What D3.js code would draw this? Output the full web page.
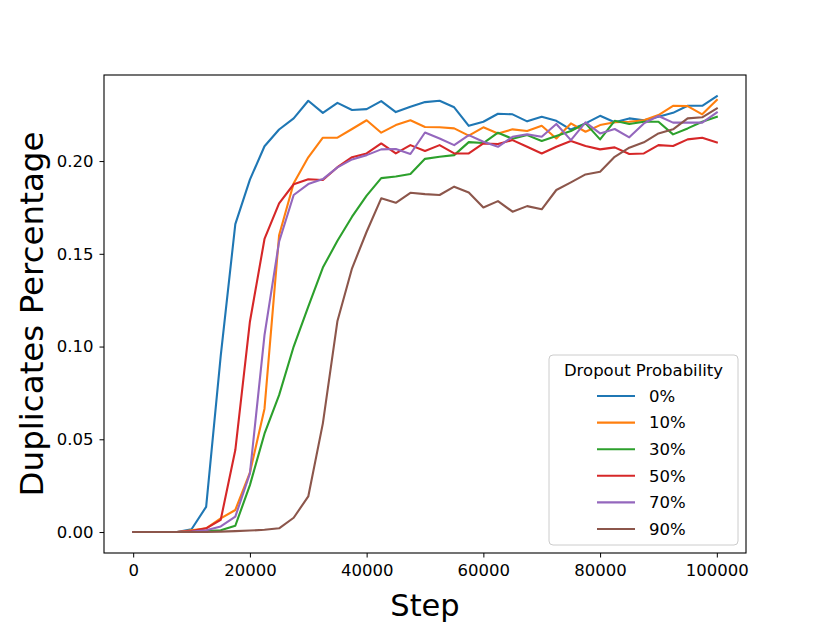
<!DOCTYPE html>
<html>
<head>
<meta charset="utf-8">
<script src="https://cdn.jsdelivr.net/npm/d3@7"></script>
<style>
  body { margin: 0; background: #fff; }
  text { font-family: "DejaVu Sans", sans-serif; }
</style>
</head>
<body>
<div id="canvas"></div>
<script>
// steps 0 .. 100000 every 2500
var steps = d3.range(0, 100001, 2500);

var labels = ["0%", "10%", "30%", "50%", "70%", "90%"];
var colors = ["#1f77b4", "#ff7f0e", "#2ca02c", "#d62728", "#9467bd", "#8c564b"];

var p0 = [0, 0, 0, 0, 0.0015, 0.0136, 0.095, 0.166, 0.190, 0.208, 0.217, 0.223, 0.2325, 0.226, 0.2314, 0.2275, 0.228, 0.2323, 0.2264, 0.2293, 0.2318,
  0.2325, 0.229, 0.219, 0.2212, 0.2255, 0.2252, 0.2214, 0.2239, 0.2217, 0.217, 0.2203, 0.2244, 0.2209, 0.223, 0.222, 0.2239, 0.226, 0.2298, 0.2298, 0.235];
var p10 = [0, 0, 0, 0, 0.001, 0.002, 0.0074, 0.0119, 0.032, 0.0665, 0.160, 0.188, 0.202, 0.2126, 0.2126, 0.2173, 0.222, 0.2153, 0.2194, 0.222, 0.2184,
  0.2182, 0.2176, 0.2137, 0.2182, 0.2149, 0.2171, 0.2162, 0.219, 0.2122, 0.2203, 0.2158, 0.2194, 0.2209, 0.2212, 0.222, 0.2248, 0.2298, 0.2296, 0.2252, 0.2329];
var p30 = [0, 0, 0, 0, 0, 0.0005, 0.001, 0.0034, 0.0253, 0.053, 0.0738, 0.100, 0.1215, 0.1426, 0.157, 0.170, 0.1814, 0.1908, 0.1917, 0.193, 0.2012,
  0.2023, 0.2032, 0.2102, 0.2097, 0.2153, 0.2120, 0.214, 0.2108, 0.2135, 0.2162, 0.2203, 0.2117, 0.2217, 0.22, 0.2212, 0.2212, 0.2144, 0.2176, 0.2212, 0.2239];
var p50 = [0, 0, 0, 0, 0.0005, 0.002, 0.0066, 0.0442, 0.1134, 0.158, 0.1772, 0.1875, 0.1902, 0.1898, 0.1967, 0.2021, 0.2041, 0.2095, 0.2041, 0.2086, 0.2054,
  0.2086, 0.2041, 0.2041, 0.2095, 0.2092, 0.2113, 0.2077, 0.2041, 0.2077, 0.2108, 0.2081, 0.2063, 0.2074, 0.2038, 0.2041, 0.2086, 0.2081, 0.2117, 0.2126, 0.2101];
var p70 = [0, 0, 0, 0, 0.0003, 0.001, 0.003, 0.0083, 0.0316, 0.1062, 0.1565, 0.1817, 0.1876, 0.1903, 0.1966, 0.2009, 0.2032, 0.2063, 0.2065, 0.2038, 0.2154,
  0.2122, 0.2086, 0.214, 0.2104, 0.2077, 0.2131, 0.2144, 0.2131, 0.22, 0.2113, 0.2209, 0.2149, 0.2173, 0.2128, 0.2203, 0.2243, 0.2207, 0.2207, 0.2207, 0.2262];
var p90 = [0, 0, 0, 0, 0, 0, 0.0002, 0.0005, 0.0008, 0.0012, 0.002, 0.0077, 0.0192, 0.0586, 0.1138, 0.1422, 0.1619, 0.1799, 0.1775, 0.1829, 0.1822,
  0.1817, 0.1862, 0.1831, 0.175, 0.1784, 0.1727, 0.1757, 0.174, 0.1844, 0.1885, 0.1928, 0.1942, 0.2023, 0.2072, 0.2101, 0.2149, 0.2171, 0.223, 0.2236, 0.2284];

var xTicks = [0, 20000, 40000, 60000, 80000, 100000];
var yTicks = [0, 0.05, 0.10, 0.15, 0.20];

var series = [p0, p10, p30, p50, p70, p90];

var width = 830, height = 623;
var margin = {top: 75, right: 84, bottom: 70, left: 104};

var svg = d3.select("#canvas").append("svg")
    .attr("width", width)
    .attr("height", height);

var x = d3.scaleLinear().domain([-5000, 105000]).range([margin.left, width - margin.right]);
var y = d3.scaleLinear().domain([-0.0113, 0.2464]).range([height - margin.bottom, margin.top]);

// lines
var line = d3.line()
    .x(function(d, i) { return x(steps[i]); })
    .y(function(d) { return y(d); });

svg.append("g").selectAll("path")
    .data(series)
  .enter().append("path")
    .attr("d", line)
    .attr("fill", "none")
    .attr("stroke", function(d, i) { return colors[i]; })
    .attr("stroke-width", 2.1)
    .attr("stroke-linejoin", "round")
    .attr("stroke-linecap", "square");

// axes
var xAxis = svg.append("g")
    .attr("transform", "translate(0," + (height - margin.bottom) + ")")
    .call(d3.axisBottom(x).tickValues(xTicks).tickFormat(d3.format("d")).tickSize(4.5).tickPadding(7));
var yAxis = svg.append("g")
    .attr("transform", "translate(" + margin.left + ",0)")
    .call(d3.axisLeft(y).tickValues(yTicks).tickFormat(d3.format(".2f")).tickSize(4.5).tickPadding(6));

[xAxis, yAxis].forEach(function(a) {
  a.select(".domain").remove();
  a.selectAll("line").attr("stroke", "#000").attr("stroke-width", 1);
  a.selectAll("text").attr("fill", "#000").style("font-size", "16.5px").style("font-family", "DejaVu Sans");
});

// frame
svg.append("rect")
    .attr("x", margin.left)
    .attr("y", margin.top)
    .attr("width", width - margin.left - margin.right)
    .attr("height", height - margin.top - margin.bottom)
    .attr("fill", "none")
    .attr("stroke", "#000")
    .attr("stroke-width", 1.1);

// axis labels
svg.append("text")
    .attr("x", (margin.left + width - margin.right) / 2)
    .attr("y", 616)
    .attr("text-anchor", "middle")
    .style("font-size", "30.5px")
    .text("Step");

svg.append("text")
    .attr("transform", "translate(43," + ((margin.top + height - margin.bottom) / 2) + ") rotate(-90)")
    .attr("text-anchor", "middle")
    .style("font-size", "32.5px")
    .text("Duplicates Percentage");

// legend
var legend = svg.append("g").attr("transform", "translate(549,355)");
legend.append("rect")
    .attr("width", 189)
    .attr("height", 190)
    .attr("rx", 4)
    .attr("fill", "#fff")
    .attr("fill-opacity", 0.8)
    .attr("stroke", "#cccccc")
    .attr("stroke-width", 1);
legend.append("text")
    .attr("x", 94.5)
    .attr("y", 21)
    .attr("text-anchor", "middle")
    .style("font-size", "16.5px")
    .text("Dropout Probability");

var item = legend.selectAll("g.item")
    .data(labels)
  .enter().append("g")
    .attr("class", "item")
    .attr("transform", function(d, i) { return "translate(0," + (41 + i * 26.6) + ")"; });
item.append("line")
    .attr("x1", 48).attr("x2", 86)
    .attr("stroke", function(d, i) { return colors[i]; })
    .attr("stroke-width", 2.1);
item.append("text")
    .attr("x", 100)
    .attr("dy", "0.35em")
    .style("font-size", "16.5px")
    .text(function(d) { return d; });
</script>
</body>
</html>
